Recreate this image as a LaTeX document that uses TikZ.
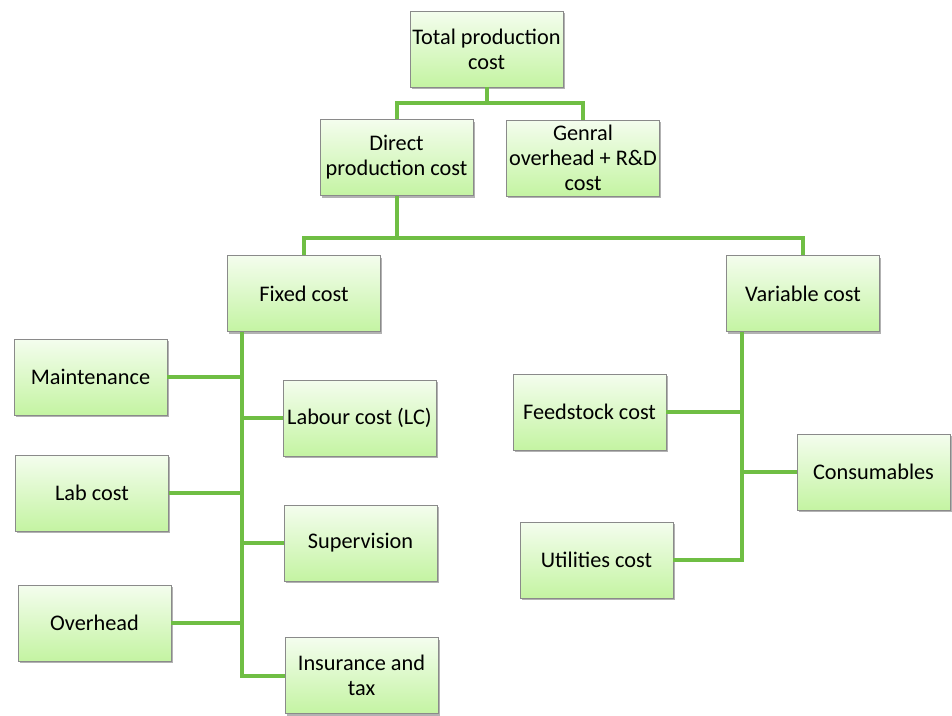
\documentclass[tikz,border=0pt]{standalone}
\usepackage{fontspec}
\setmainfont{Carlito}
\usetikzlibrary{shadows}
\definecolor{linegreen}{HTML}{6FBE44}
\definecolor{boxtop}{HTML}{F4FDEE}
\definecolor{boxbot}{HTML}{C4F4A2}
\definecolor{boxborder}{HTML}{8A8A8A}
\tikzset{
  costbox/.style={draw=boxborder, line width=0.9pt, top color=boxtop, bottom color=boxbot,
    minimum width=153pt, minimum height=76pt, inner sep=0pt, align=center,
    font=\fontsize{22.3}{25}\selectfont,
    drop shadow={shadow xshift=1.5pt, shadow yshift=-2pt, opacity=0.3, fill=black}},
  link/.style={draw=linegreen, line width=4pt, line join=miter}
}
\begin{document}
\begin{tikzpicture}[x=1pt,y=-1pt]
\useasboundingbox (0,0) rectangle (952,715);
\node[costbox] (total) at (486.5,49) {Total production\\cost};
\node[costbox] (direct) at (396.5,157.5) {Direct\\production cost};
\node[costbox] (genral) at (583,158) {Genral\\overhead + R\&D\\cost};
\node[costbox] (fixed) at (304,293.5) {Fixed cost};
\node[costbox] (variable) at (803,293.5) {Variable cost};
\node[costbox] (maint) at (90.5,377) {Maintenance};
\node[costbox] (labour) at (359.5,418) {Labour cost (LC)};
\node[costbox] (lab) at (92,493) {Lab cost};
\node[costbox] (superv) at (360.5,543) {Supervision};
\node[costbox] (overhead) at (94.5,623) {Overhead};
\node[costbox] (insur) at (361.5,675.5) {Insurance and\\tax};
\node[costbox] (feed) at (589.5,412) {Feedstock cost};
\node[costbox] (consum) at (873.5,472) {Consumables};
\node[costbox] (util) at (596.5,560) {Utilities cost};
% top level
\coordinate (t1) at (0,103);
\draw[link] (total.south) -- (total.south |- t1);
\draw[link] (direct.north) -- (direct.north |- t1) -- (genral.north |- t1) -- (genral.north);
% second level
\coordinate (t2) at (0,238);
\draw[link] (direct.south) -- (direct.south |- t2);
\draw[link] (fixed.north) -- (fixed.north |- t2) -- (variable.north |- t2) -- (variable.north);
% fixed cost branch
\coordinate (fv) at (242,0);
\draw[link] (fixed.south -| fv) -- (insur.west -| fv) -- (insur.west);
\draw[link] (maint.east) -- (maint.east -| fv);
\draw[link] (lab.east) -- (lab.east -| fv);
\draw[link] (overhead.east) -- (overhead.east -| fv);
\draw[link] (labour.west) -- (labour.west -| fv);
\draw[link] (superv.west) -- (superv.west -| fv);
% variable cost branch
\coordinate (vv) at (742,0);
\draw[link] (variable.south -| vv) -- (util.east -| vv) -- (util.east);
\draw[link] (feed.east) -- (feed.east -| vv);
\draw[link] (consum.west) -- (consum.west -| vv);
\end{tikzpicture}
\end{document}
